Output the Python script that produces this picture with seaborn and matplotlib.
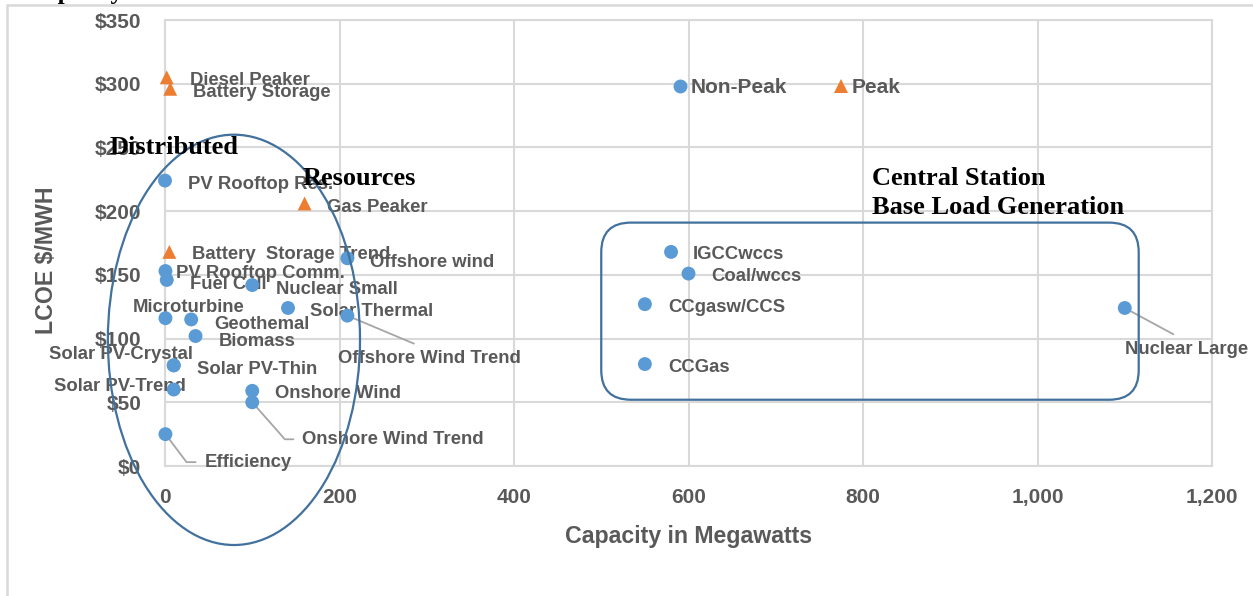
import matplotlib.pyplot as plt
import numpy as np
import pandas as pd
import seaborn as sns
from matplotlib.patches import Ellipse, FancyBboxPatch, Rectangle

# generation technologies: capacity (MW) vs levelized cost ($/MWh)
names = ['Diesel Peaker', 'Battery Storage', 'Gas Peaker', 'Battery  Storage Trend',
         'PV Rooftop Res.', 'PV Rooftop Comm.', 'Fuel Cell', 'Offshore wind',
         'Nuclear Small', 'Solar Thermal', 'Offshore Wind Trend', 'Microturbine',
         'Geothemal', 'Biomass', 'Solar PV-Crystal', 'Solar PV-Thin',
         'Solar PV-Trend', 'Onshore Wind', 'Onshore Wind Trend', 'Efficiency',
         'IGCCwccs', 'Coal/wccs', 'CCgasw/CCS', 'CCGas', 'Nuclear Large']
capacity = [2, 6, 160, 5,
            0, 0.5, 2, 209,
            100, 141, 209, 0.5,
            30, 35, 10, 10,
            10, 100, 100, 0.5,
            580, 600, 550, 550, 1100]
lcoe = [305, 296, 206, 168,
        224, 153, 146, 163,
        142, 124, 118, 116,
        115, 102, 79, 79,
        60, 59, 50, 25,
        168, 151, 127, 80, 124]
kind = ['Peak'] * 4 + ['Non-Peak'] * 21

df = pd.DataFrame({'name': names, 'capacity': capacity, 'lcoe': lcoe, 'kind': kind})

# label placement: offset in pixels from the point, horizontal alignment
label_style = {
    'Diesel Peaker': (23, 0, 'left'),
    'Battery Storage': (23, -1, 'left'),
    'Gas Peaker': (22, -1, 'left'),
    'Battery  Storage Trend': (23, 0, 'left'),
    'PV Rooftop Res.': (23, -1, 'left'),
    'PV Rooftop Comm.': (11, 1, 'left'),
    'Fuel Cell': (23, -2, 'left'),
    'Offshore wind': (23, -1, 'left'),
    'Nuclear Small': (24, -1, 'left'),
    'Solar Thermal': (22, -1, 'left'),
    'Offshore Wind Trend': (82, -40, 'center'),
    'Microturbine': (23, 14, 'center'),
    'Geothemal': (23, -2, 'left'),
    'Biomass': (23, -2, 'left'),
    'Solar PV-Crystal': (-53, 14, 'center'),
    'Solar PV-Thin': (23, -1, 'left'),
    'Solar PV-Trend': (-54, 6, 'center'),
    'Onshore Wind': (23, 0, 'left'),
    'Onshore Wind Trend': (50, -34, 'left'),
    'Efficiency': (39, -25, 'left'),
    'IGCCwccs': (22, 0, 'left'),
    'Coal/wccs': (23, 0, 'left'),
    'CCgasw/CCS': (23, 0, 'left'),
    'CCGas': (23, 0, 'left'),
    'Nuclear Large': (62, -39, 'center'),
}
leaders = {
    'Offshore Wind Trend': dict(relpos=(0.5, 1.0), shrinkA=6, connectionstyle='arc3'),
    'Nuclear Large': dict(relpos=(0.5, 1.0), shrinkA=6, connectionstyle='arc3'),
    'Onshore Wind Trend': dict(relpos=(0.0, 0.5), shrinkA=4,
                               connectionstyle='angle,angleA=0,angleB=-48.6,rad=0'),
    'Efficiency': dict(relpos=(0.0, 0.5), shrinkA=4,
                       connectionstyle='angle,angleA=0,angleB=-53,rad=0'),
}
TEXT_DROP = 3  # labels sit a little below the marker centre line

BLUE = '#5B9BD5'
ORANGE = '#ED7D31'
GRAY = '#595959'
GRID = '#D9D9D9'
OUTLINE = '#41719C'

sns.set_style('white')
plt.rcParams['font.family'] = ['Liberation Sans', 'DejaVu Sans']
plt.rcParams['font.weight'] = 'bold'

fig = plt.figure(figsize=(12.53, 5.96), dpi=100)
ax = fig.add_axes([165 / 1253, 1 - 466 / 596, 1047 / 1253, 446 / 596])

sns.scatterplot(data=df, x='capacity', y='lcoe', hue='kind', style='kind',
                hue_order=['Non-Peak', 'Peak'], style_order=['Non-Peak', 'Peak'],
                palette={'Non-Peak': BLUE, 'Peak': ORANGE},
                markers={'Non-Peak': 'o', 'Peak': '^'},
                s=100, linewidth=0, ax=ax, zorder=4, clip_on=False)

ax.set_xlim(0, 1200)
ax.set_ylim(0, 350)
ax.set_xticks(np.arange(0, 1201, 200))
ax.set_yticks(np.arange(0, 351, 50))
ax.set_xticklabels([f'{v:,}' for v in range(0, 1201, 200)])
ax.set_yticklabels([f'${v}' for v in range(0, 351, 50)])
ax.grid(True, color=GRID, linewidth=1.5)
ax.set_axisbelow(True)
for sp in ax.spines.values():
    sp.set_color(GRID)
    sp.set_linewidth(1.5)
ax.tick_params(length=0, labelsize=15, labelcolor=GRAY)
ax.tick_params(axis='y', pad=17)
ax.tick_params(axis='x', pad=16)

ax.set_xlabel('Capacity in Megawatts', fontsize=16.7, color=GRAY, fontweight='bold')
ax.set_ylabel('LCOE $/MWH', fontsize=16.7, color=GRAY, fontweight='bold')
ax.xaxis.set_label_coords(0.5, -0.133)
ax.yaxis.set_label_coords(-0.102, 0.462)

for name, x, y in zip(names, capacity, lcoe):
    dx, dy, ha = label_style[name]
    arrow = None
    if name in leaders:
        lp = leaders[name]
        arrow = dict(arrowstyle='-', color='#A6A6A6', lw=1.3, shrinkB=0,
                     relpos=lp['relpos'], connectionstyle=lp['connectionstyle'])
        arrow['shrinkA'] = lp['shrinkA']
    ax.annotate(name, (x, y), xytext=(dx, dy - TEXT_DROP), textcoords='offset pixels',
                ha=ha, va='center', fontsize=13.3, color=GRAY, fontweight='bold',
                arrowprops=arrow, zorder=3, annotation_clip=False)

# grouping outlines
ax.add_patch(Ellipse((79, 99), 289, 322, fill=False, edgecolor=OUTLINE,
                     linewidth=1.6, clip_on=False, zorder=5))
ax.add_patch(FancyBboxPatch((500, 52), 616, 139,
                            boxstyle='round,pad=0,rounding_size=34',
                            mutation_aspect=0.683, fill=False,
                            edgecolor=OUTLINE, linewidth=1.6, zorder=5))

serif = dict(family=['Liberation Serif', 'DejaVu Serif'], fontweight='bold',
             fontsize=19, color='black', va='center', ha='left', zorder=6)
ax.text(-63, 250, 'Distributed', **serif)
ax.text(158, 226, 'Resources', **serif)
ax.text(810, 226, 'Central Station', **serif)
ax.text(810, 202.5, 'Base Load Generation', **serif)

handles, labels = ax.get_legend_handles_labels()
ax.legend(handles, labels, loc='center', bbox_to_anchor=(0.593, 0.848), ncol=2,
          frameon=False, fontsize=15, labelcolor=GRAY, handletextpad=0.1,
          columnspacing=2.2, handlelength=0.8, borderaxespad=0)

# outer frame and clipped caption above
fig.patches.append(Rectangle((7 / 1253, -0.2), 1.2, 1.2 + (596 - 5) / 596 - 1,
                             transform=fig.transFigure, fill=False,
                             edgecolor=GRID, linewidth=1.8, zorder=0))
fig.text(28 / 1253, 1 + 1 / 596, 'Capacity', family=['Liberation Serif', 'DejaVu Serif'],
         fontweight='bold', fontsize=18, color='black', va='baseline', ha='left')

fig.savefig('out.png', dpi=100)
